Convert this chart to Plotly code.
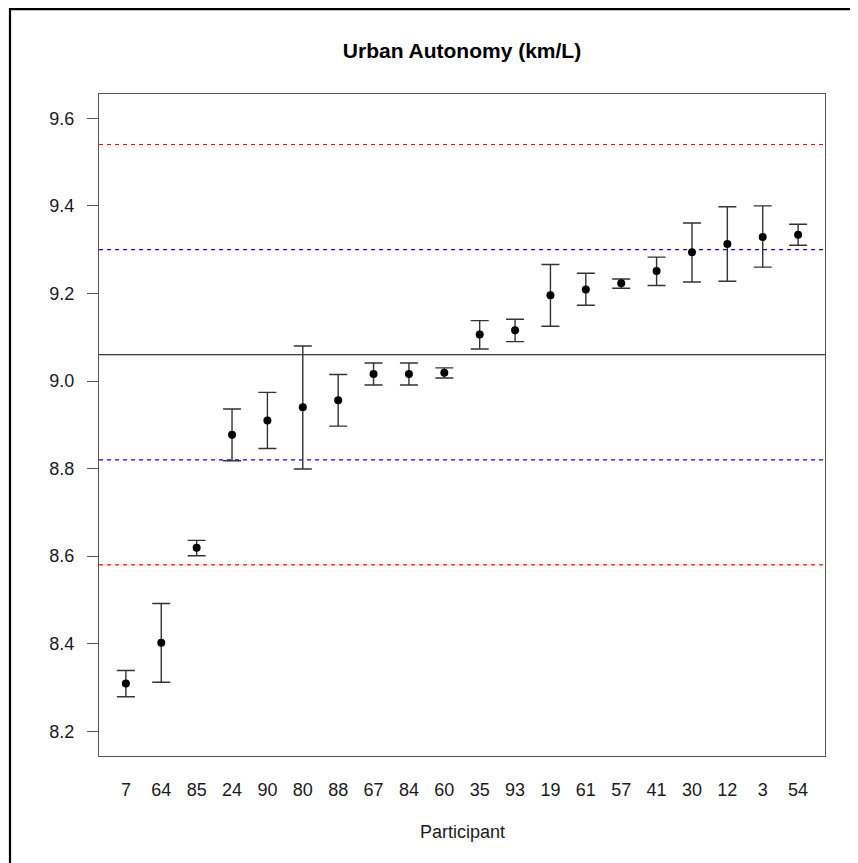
import plotly.graph_objects as go

participants = ["7", "64", "85", "24", "90", "80", "88", "67", "84", "60",
                "35", "93", "19", "61", "57", "41", "30", "12", "3", "54"]
means = [8.309, 8.402, 8.619, 8.877, 8.910, 8.940, 8.956, 9.016, 9.016, 9.019,
         9.106, 9.116, 9.196, 9.209, 9.223, 9.251, 9.294, 9.313, 9.329, 9.334]
upper = [8.339, 8.492, 8.636, 8.936, 8.974, 9.080, 9.015, 9.041, 9.041, 9.030,
         9.138, 9.141, 9.266, 9.246, 9.233, 9.283, 9.361, 9.398, 9.400, 9.358]
lower = [8.279, 8.312, 8.601, 8.818, 8.846, 8.799, 8.897, 8.991, 8.991, 9.007,
         9.073, 9.090, 9.125, 9.173, 9.212, 9.218, 9.226, 9.228, 9.260, 9.310]

ref_levels = [9.54, 9.30, 9.06, 8.82, 8.58]
ref_colors = ["#ff0000", "#0000ff", "#000000", "#0000ff", "#ff0000"]
ref_dash = ["4px,4px", "4px,4px", "solid", "4px,4px", "4px,4px"]

y_ticks = [8.2, 8.4, 8.6, 8.8, 9.0, 9.2, 9.4, 9.6]

x_pos = list(range(1, len(participants) + 1))
err_plus = [u - m for u, m in zip(upper, means)]
err_minus = [m - l for m, l in zip(means, lower)]

FONT = "Liberation Sans, Arial, Helvetica, sans-serif"

W, H = 850, 855
ML, MR, MT, MB = 91, 33, 86, 107.3
PW = W - ML - MR
PH = H - MT - MB

fig = go.Figure()

shapes = []
for lv, col, ds in zip(ref_levels, ref_colors, ref_dash):
    shapes.append(dict(type="line", xref="paper", yref="y", x0=0, x1=1, y0=lv, y1=lv,
                       line=dict(color=col, width=1.1, dash=ds), layer="below"))
# outer figure frame
shapes.append(dict(type="rect", xref="paper", yref="paper",
                   x0=-(ML - 2) / PW, x1=1.2, y0=-0.5, y1=1 + (MT - 1.1) / PH,
                   line=dict(color="#000000", width=2.2), fillcolor="rgba(0,0,0,0)"))

fig.add_trace(go.Scatter(
    x=x_pos, y=means, mode="markers",
    marker=dict(color="#000000", size=8, symbol="circle"),
    error_y=dict(type="data", symmetric=False, array=err_plus, arrayminus=err_minus,
                 color="#333333", thickness=1.4, width=9),
    showlegend=False, hoverinfo="skip",
))

fig.update_layout(
    width=W, height=H,
    margin=dict(l=ML, r=MR, t=MT, b=MB),
    paper_bgcolor="white", plot_bgcolor="white",
    font=dict(family=FONT, color="#1a1a1a", size=18),
    title=dict(text="<b>Urban Autonomy (km/L)</b>", x=0.5, xref="paper",
               y=1 - (50.7 - 8) / H, yref="container", xanchor="center", yanchor="middle",
               font=dict(family=FONT, size=21, color="#000000")),
    shapes=shapes,
    annotations=[dict(text="Participant", xref="paper", yref="paper", x=0.5,
                      y=-(832 - 755.7) / PH, xanchor="center", yanchor="middle",
                      showarrow=False, font=dict(family=FONT, size=18, color="#1a1a1a"))],
    xaxis=dict(range=[0.24, 20.76], tickmode="array", tickvals=x_pos, ticktext=participants,
               ticks="", showgrid=False, zeroline=False, showline=True, mirror=True,
               linecolor="#555555", linewidth=1.2, ticklabelstandoff=17,
               tickfont=dict(family=FONT, size=18, color="#1a1a1a")),
    yaxis=dict(range=[8.1436, 9.6555], tickmode="array", tickvals=y_ticks,
               ticktext=[f"{v:.1f}" for v in y_ticks],
               ticks="outside", ticklen=11, tickwidth=1.2, tickcolor="#555555",
               showgrid=False, zeroline=False, showline=True, mirror=True,
               linecolor="#555555", linewidth=1.2, ticklabelstandoff=9,
               tickfont=dict(family=FONT, size=18, color="#1a1a1a")),
)

fig.write_html("out.html")
